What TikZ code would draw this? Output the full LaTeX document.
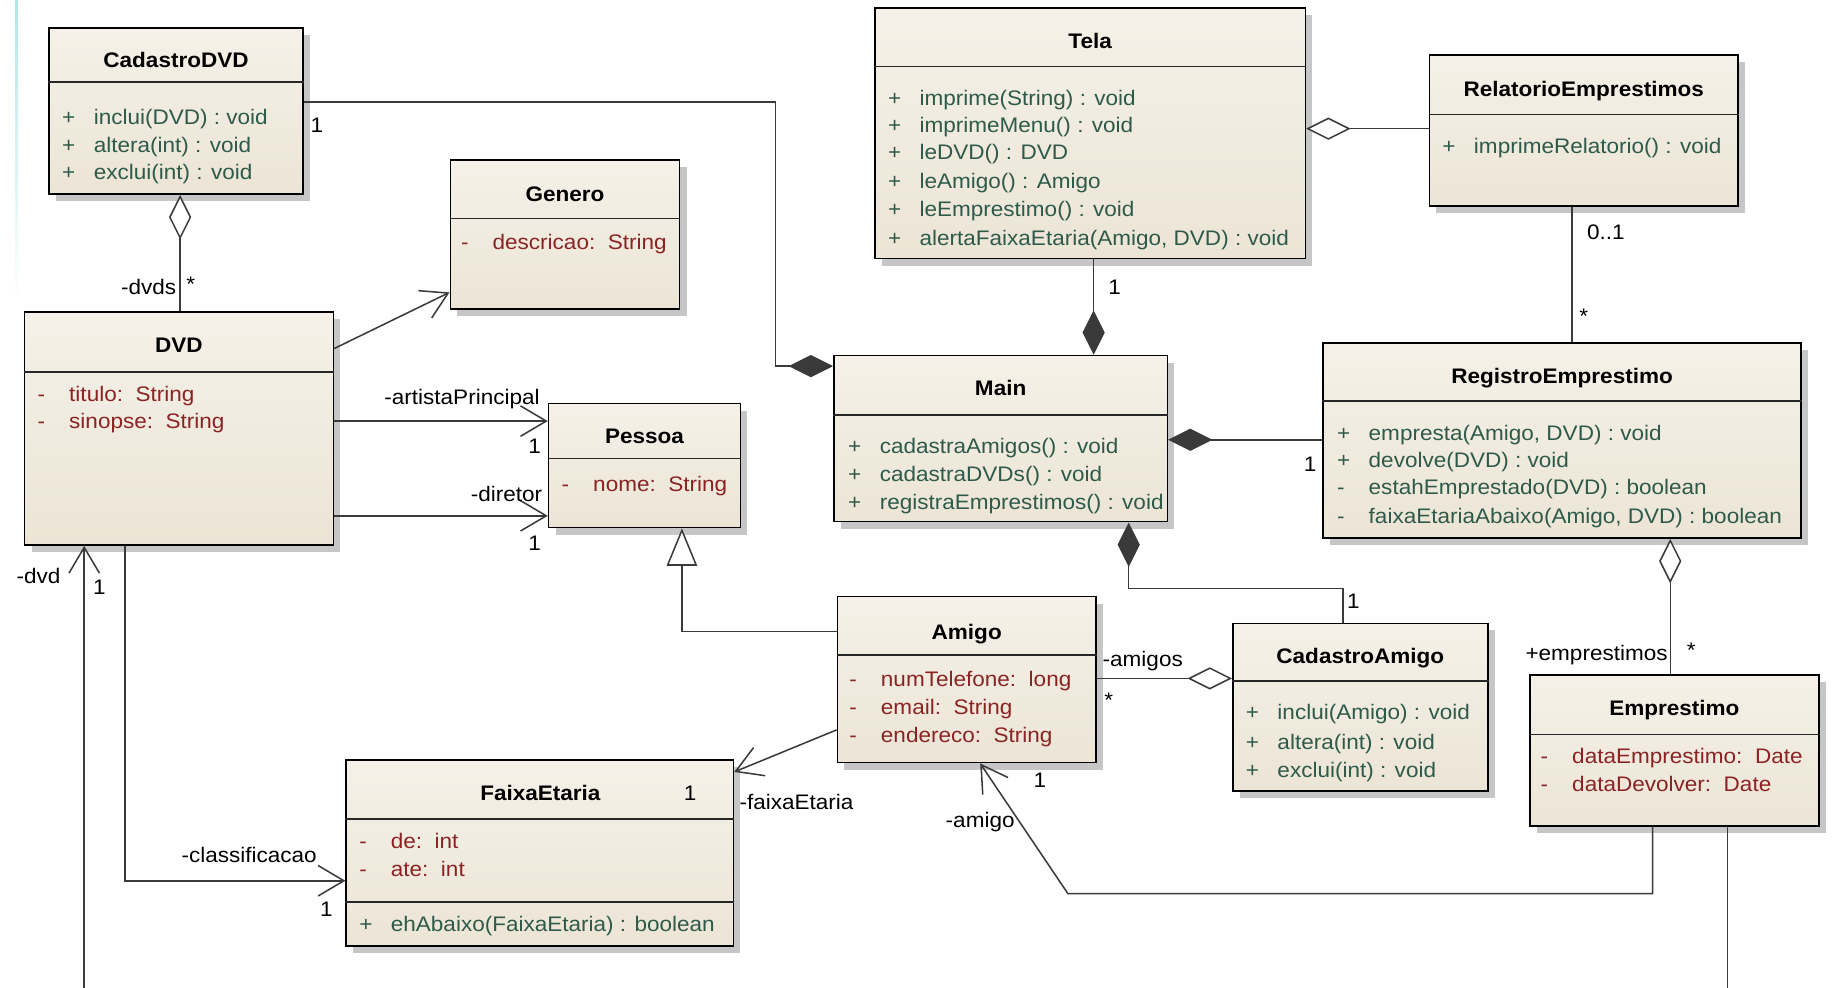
\documentclass[tikz,border=0pt]{standalone}
\usepackage{fontspec}
\setmainfont[FakeStretch=1.07]{Liberation Sans}
\usetikzlibrary{arrows.meta,fit,shadows,calc}
\definecolor{clsA}{HTML}{F5F1E8}
\definecolor{clsB}{HTML}{ECE5D6}
\definecolor{attrc}{HTML}{8A2424}
\definecolor{methc}{HTML}{2E5A4A}
\definecolor{linec}{HTML}{3A3A3A}
\definecolor{shadowc}{HTML}{C6C6C6}
\newcommand\vsym[1]{\makebox[27pt][l]{#1}}
\tikzset{
  cls/.style={draw=black, line width=1.4pt, inner sep=0pt, top color=clsA, bottom color=clsB,
    drop shadow={shadow xshift=6pt, shadow yshift=-6pt, fill=shadowc, opacity=1}},
  sepline/.style={draw=black!85, line width=1.3pt},
  txt/.style={font=\fontsize{18}{21}\selectfont, inner sep=0pt, text height=17pt, text depth=4pt},
  title/.style={txt, font=\fontsize{18}{21}\selectfont\bfseries},
  attr/.style={txt, anchor=west, text=attrc},
  meth/.style={txt, anchor=west, text=methc},
  lbl/.style={txt, text=black},
  conn/.style={draw=linec, line width=1.3pt},
  nav/.style={-{Straight Barb[length=22pt, width=26pt, line width=1.3pt]}},
  fdia/.style={{Diamond[length=38pt, width=19pt]}-},
  hdia/.style={{Diamond[open, fill=white, length=38pt, width=19pt, line width=1.3pt]}-},
  gen/.style={{Triangle[open, fill=white, length=32pt, width=26pt, line width=1.3pt]}-},
}
\begin{document}
\begin{tikzpicture}[x=1pt, y=-1pt]
\fill[white] (0,0) rectangle (1568,844);
\useasboundingbox (0,0) rectangle (1568,844);
\shade[top color=cyan!35!teal!30, bottom color=white] (13,0) rectangle (15.5,260);

% ---------- classes ----------
% CadastroDVD
\node[cls, fit={(42,24) (259,166)}] (cdvd) {};
\draw[sepline] (cdvd.west |- 0,70) -- (cdvd.east |- 0,70);
\node[title] (cdvdT) at (cdvd.center |- 0,51) {CadastroDVD};
\node[meth] (cdvd1) at (53,100) {\vsym{+}inclui(DVD) : void};
\node[meth] (cdvd2) at (53,124) {\vsym{+}altera(int) : void};
\node[meth] (cdvd3) at (53,147) {\vsym{+}exclui(int) : void};

% Genero
\node[cls, fit={(385,137) (581,264)}] (gen) {};
\draw[sepline] (gen.west |- 0,187) -- (gen.east |- 0,187);
\node[title] (genT) at (gen.center |- 0,166) {Genero};
\node[attr] (gen1) at (394,207) {\vsym{-}descricao:\ \ String};

% DVD
\node[cls, fit={(21,267) (285,466)}] (dvd) {};
\draw[sepline] (dvd.west |- 0,318) -- (dvd.east |- 0,318);
\node[title] (dvdT) at (dvd.center |- 0,295) {DVD};
\node[attr] (dvd1) at (32,337) {\vsym{-}titulo:\ \ String};
\node[attr] (dvd2) at (32,360) {\vsym{-}sinopse:\ \ String};

% Pessoa
\node[cls, fit={(469,345) (633,451)}] (pes) {};
\draw[sepline] (pes.west |- 0,392) -- (pes.east |- 0,392);
\node[title] (pesT) at (pes.center |- 0,373) {Pessoa};
\node[attr] (pes1) at (480,414) {\vsym{-}nome:\ \ String};

% Tela
\node[cls, fit={(748,7) (1116,221)}] (tela) {};
\draw[sepline] (tela.west |- 0,57) -- (tela.east |- 0,57);
\node[title] (telaT) at (tela.center |- 0,35) {Tela};
\node[meth] (tela1) at (759,84) {\vsym{+}imprime(String) : void};
\node[meth] (tela2) at (759,107) {\vsym{+}imprimeMenu() : void};
\node[meth] (tela3) at (759,130) {\vsym{+}leDVD() : DVD};
\node[meth] (tela4) at (759,155) {\vsym{+}leAmigo() : Amigo};
\node[meth] (tela5) at (759,179) {\vsym{+}leEmprestimo() : void};
\node[meth] (tela6) at (759,203) {\vsym{+}alertaFaixaEtaria(Amigo, DVD) : void};

% RelatorioEmprestimos
\node[cls, fit={(1222,47) (1486,176)}] (rel) {};
\draw[sepline] (rel.west |- 0,98) -- (rel.east |- 0,98);
\node[title] (relT) at (rel.center |- 0,76) {RelatorioEmprestimos};
\node[meth] (rel1) at (1233,125) {\vsym{+}imprimeRelatorio() : void};

% Main
\node[cls, fit={(713,304) (998,446)}] (main) {};
\draw[sepline] (main.west |- 0,355) -- (main.east |- 0,355);
\node[title] (mainT) at (main.center |- 0,332) {Main};
\node[meth] (main1) at (725,381) {\vsym{+}cadastraAmigos() : void};
\node[meth] (main2) at (725,405) {\vsym{+}cadastraDVDs() : void};
\node[meth] (main3) at (725,429) {\vsym{+}registraEmprestimos() : void};

% RegistroEmprestimo
\node[cls, fit={(1131,293) (1540,460)}] (reg) {};
\draw[sepline] (reg.west |- 0,343) -- (reg.east |- 0,343);
\node[title] (regT) at (reg.center |- 0,321) {RegistroEmprestimo};
\node[meth] (reg1) at (1143,370) {\vsym{+}empresta(Amigo, DVD) : void};
\node[meth] (reg2) at (1143,393) {\vsym{+}devolve(DVD) : void};
\node[meth] (reg3) at (1143,416) {\vsym{-}estahEmprestado(DVD) : boolean};
\node[meth] (reg4) at (1143,441) {\vsym{-}faixaEtariaAbaixo(Amigo, DVD) : boolean};

% Amigo
\node[cls, fit={(716,510) (937,652)}] (amigo) {};
\draw[sepline] (amigo.west |- 0,560) -- (amigo.east |- 0,560);
\node[title] (amigoT) at (amigo.center |- 0,540) {Amigo};
\node[attr] (amigo1) at (726,580) {\vsym{-}numTelefone:\ \ long};
\node[attr] (amigo2) at (726,604) {\vsym{-}email:\ \ String};
\node[attr] (amigo3) at (726,628) {\vsym{-}endereco:\ \ String};

% CadastroAmigo
\node[cls, fit={(1054,533) (1272,676)}] (camigo) {};
\draw[sepline] (camigo.west |- 0,582) -- (camigo.east |- 0,582);
\node[title] (camigoT) at (camigo.center |- 0,561) {CadastroAmigo};
\node[meth] (camigo1) at (1065,609) {\vsym{+}inclui(Amigo) : void};
\node[meth] (camigo2) at (1065,634) {\vsym{+}altera(int) : void};
\node[meth] (camigo3) at (1065,658) {\vsym{+}exclui(int) : void};

% Emprestimo
\node[cls, fit={(1308,577) (1555,706)}] (emp) {};
\draw[sepline] (emp.west |- 0,628) -- (emp.east |- 0,628);
\node[title] (empT) at (emp.center |- 0,605) {Emprestimo};
\node[attr] (emp1) at (1317,646) {\vsym{-}dataEmprestimo:\ \ Date};
\node[attr] (emp2) at (1317,670) {\vsym{-}dataDevolver:\ \ Date};

% FaixaEtaria
\node[cls, fit={(296,650) (627,809)}] (faixa) {};
\draw[sepline] (faixa.west |- 0,700) -- (faixa.east |- 0,700);
\draw[sepline] (faixa.west |- 0,771) -- (faixa.east |- 0,771);
\node[title] (faixaT) at (462,678) {FaixaEtaria};
\node[attr] (faixa1) at (307,719) {\vsym{-}de:\ \ int};
\node[attr] (faixa2) at (307,743) {\vsym{-}ate:\ \ int};
\node[meth] (faixa3) at (307,790) {\vsym{+}ehAbaixo(FaixaEtaria) : boolean};

% ---------- connectors ----------
\draw[conn, fdia] (main.west |- 0,313) -- (663,313) -- (663,87) -- (cdvd.east |- 0,87);
\draw[conn, hdia] (154,0 |- cdvd.south) -- (154,0 |- dvd.north);
\draw[conn, nav] (dvd.east |- 0,298) -- (gen.west |- 0,250);
\draw[conn, nav] (dvd.east |- 0,360) -- (pes.west |- 0,360);
\draw[conn, nav] (dvd.east |- 0,441) -- (pes.west |- 0,441);
\draw[conn, gen] (583,0 |- pes.south) -- (583,540) -- (amigo.west |- 0,540);
\draw[conn, fdia] (935,0 |- main.north) -- (935,0 |- tela.south);
\draw[conn, hdia] (tela.east |- 0,110) -- (rel.west |- 0,110);
\draw[conn] (1344,0 |- rel.south) -- (1344,0 |- reg.north);
\draw[conn, fdia] (main.east |- 0,376) -- (reg.west |- 0,376);
\draw[conn, fdia] (965,0 |- main.south) -- (965,503) -- (1148,503) -- (1148,0 |- camigo.north);
\draw[conn, hdia] (camigo.west |- 0,580) -- (amigo.east |- 0,580);
\draw[conn, hdia] (1428,0 |- reg.south) -- (1428,0 |- emp.north);
\draw[conn, nav] (1413,0 |- emp.south) -- (1413,764) -- (913,764) -- (838,0 |- amigo.south);
\coordinate (endE) at (1477,852);
\coordinate (endD) at (72,852);
\draw[conn] (1477,0 |- emp.south) -- (endE);
\draw[conn, nav] (endD) -- (72,0 |- dvd.south);
\draw[conn, nav] (107,0 |- dvd.south) -- (107,753) -- (faixa.west |- 0,753);
\draw[conn, nav] (amigo.west |- 0,624) -- (faixa.east |- 0,660);

% ---------- labels ----------
\node[lbl] (l1) at (271,107) {1};
\node[lbl] (l2) at (127,245) {-dvds};
\node[lbl] (l3) at (163,243) {*};
\node[lbl] (l4) at (395,339) {-artistaPrincipal};
\node[lbl] (l5) at (457,381) {1};
\node[lbl] (l6) at (433,422) {-diretor};
\node[lbl] (l7) at (457,464) {1};
\node[lbl] (l8) at (33,492) {-dvd};
\node[lbl] (l9) at (85,502) {1};
\node[lbl] (l10) at (213,731) {-classificacao};
\node[lbl] (l11) at (279,777) {1};
\node[lbl] (l12) at (590,678) {1};
\node[lbl] (l13) at (681,686) {-faixaEtaria};
\node[lbl] (l14) at (953,245) {1};
\node[lbl] (l15) at (1373,198) {0..1};
\node[lbl] (l16) at (1354,270) {*};
\node[lbl] (l17) at (1120,397) {1};
\node[lbl] (l18) at (1157,514) {1};
\node[lbl] (l19) at (977,563) {-amigos};
\node[lbl] (l20) at (948,598) {*};
\node[lbl] (l21) at (1365,558) {+emprestimos};
\node[lbl] (l22) at (1446,556) {*};
\node[lbl] (l23) at (889,667) {1};
\node[lbl] (l24) at (838,701) {-amigo};
\end{tikzpicture}
\end{document}
